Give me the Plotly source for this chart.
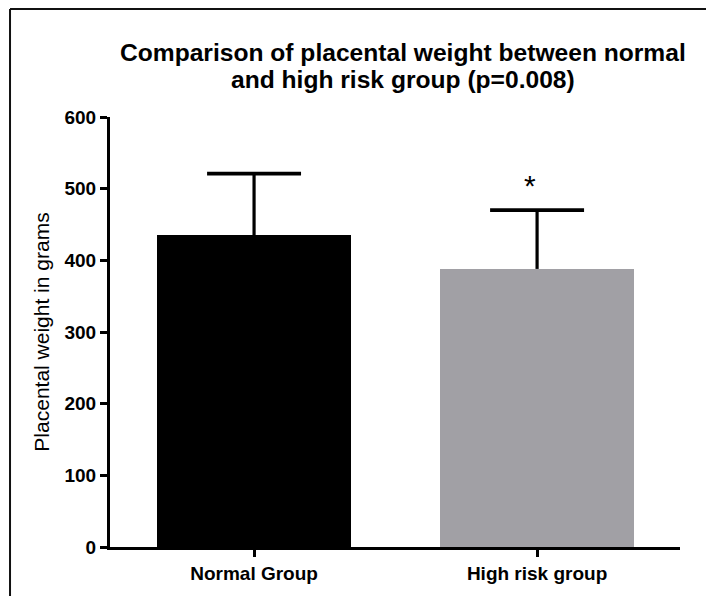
import plotly.graph_objects as go

# ---- data ----
categories = ["Normal Group", "High risk group"]
means = [435, 388]
sds = [86, 82]
bar_colors = ["#000000", "#a1a0a5"]
y_ticks = [0, 100, 200, 300, 400, 500, 600]
title_line1 = "Comparison of placental weight between normal"
title_line2 = "and high risk group (p=0.008)"
y_label = "Placental weight in grams"
sig_marks = ["", "*"]

FONT = "Liberation Sans, Arial, sans-serif"
xpos = list(range(len(categories)))
cap_half = 0.166

fig = go.Figure()
fig.add_trace(go.Bar(
    x=xpos, y=means, width=0.683,
    marker=dict(color=bar_colors, line=dict(width=0)),
    showlegend=False, hoverinfo="skip",
))

# error bars (upper only): stems and caps
sx, sy, cx, cy = [], [], [], []
for xi, m, s in zip(xpos, means, sds):
    sx += [xi, xi, None]
    sy += [m, m + s, None]
    cx += [xi - cap_half, xi + cap_half, None]
    cy += [m + s, m + s, None]
fig.add_trace(go.Scatter(x=sx, y=sy, mode="lines",
                         line=dict(color="black", width=3.2),
                         showlegend=False, hoverinfo="skip"))
fig.add_trace(go.Scatter(x=cx, y=cy, mode="lines",
                         line=dict(color="black", width=3.6),
                         showlegend=False, hoverinfo="skip"))

annotations = []
for xi, m, s, mark in zip(xpos, means, sds, sig_marks):
    if mark:
        annotations.append(dict(x=xi, y=m + s, xref="x", yref="y", text=mark,
                                showarrow=False, yanchor="middle", xanchor="center",
                                yshift=25, xshift=-7,
                                font=dict(family=FONT, size=30, color="black")))

annotations.append(dict(x=0.514, y=1.151, xref="paper", yref="paper",
                        text="<b>" + title_line1 + "</b>", showarrow=False,
                        xanchor="center", yanchor="middle",
                        font=dict(family=FONT, size=24.6, color="black")))
annotations.append(dict(x=0.514, y=1.088, xref="paper", yref="paper",
                        text="<b>" + title_line2 + "</b>", showarrow=False,
                        xanchor="center", yanchor="middle",
                        font=dict(family=FONT, size=24.6, color="black")))

shapes = [
    dict(type="line", xref="paper", yref="paper", x0=-0.1754, x1=1.08,
         y0=1.2512, y1=1.2512, line=dict(color="#111", width=2)),
    dict(type="line", xref="paper", yref="paper", x0=-0.1754, x1=-0.1754,
         y0=1.2512, y1=-0.2, line=dict(color="#111", width=2)),
]

fig.update_layout(
    width=714, height=596,
    margin=dict(l=102, r=42, t=109, b=57),
    paper_bgcolor="white", plot_bgcolor="white",
    font=dict(family=FONT, color="black"),
    annotations=annotations, shapes=shapes,
    bargap=0,
)
fig.update_xaxes(
    range=[-0.509, 1.505], tickmode="array", tickvals=xpos,
    ticktext=["<b>" + c + "</b>" for c in categories],
    tickfont=dict(family=FONT, size=19, color="black"),
    showline=True, linecolor="black", linewidth=3,
    ticks="outside", ticklen=7, tickwidth=3, tickcolor="black",
    showgrid=False, zeroline=False, fixedrange=True,
)
fig.update_yaxes(
    range=[0, 600], tickmode="array", tickvals=y_ticks,
    ticktext=["<b>%d</b>" % v for v in y_ticks],
    tickfont=dict(family=FONT, size=19, color="black"),
    showline=True, linecolor="black", linewidth=3,
    ticks="outside", ticklen=7, tickwidth=3, tickcolor="black",
    showgrid=False, zeroline=False, fixedrange=True,
    title=dict(text=y_label, font=dict(family=FONT, size=21, color="black"), standoff=10),
)

fig.write_html("out.html")
